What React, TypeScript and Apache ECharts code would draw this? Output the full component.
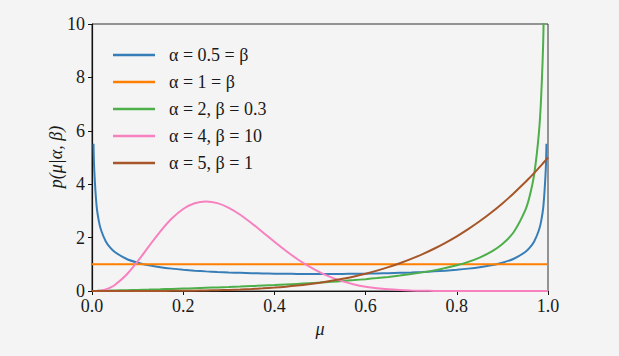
import React, { useEffect, useRef } from "react";
import * as echarts from "echarts";

const FONT = "Liberation Serif";

const mu = [
  0, 0.00334, 0.005, 0.01, 0.015, 0.02, 0.03, 0.04, 0.05, 0.075,
  0.1, 0.125, 0.15, 0.175, 0.2, 0.225, 0.25, 0.275, 0.3, 0.325,
  0.35, 0.375, 0.4, 0.425, 0.45, 0.475, 0.5, 0.525, 0.55, 0.575,
  0.6, 0.625, 0.65, 0.675, 0.7, 0.725, 0.75, 0.775, 0.8, 0.825,
  0.85, 0.875, 0.9, 0.925, 0.95, 0.96, 0.97, 0.98, 0.985, 0.99,
  0.995, 0.99666, 1,
];

const pBlue = [
  null, 5.517, 4.513, 3.199, 2.619, 2.274, 1.866, 1.624, 1.461, 1.209,
  1.061, 0.963, 0.891, 0.838, 0.796, 0.762, 0.735, 0.713, 0.695, 0.68,
  0.667, 0.658, 0.65, 0.644, 0.64, 0.637, 0.637, 0.637, 0.64, 0.644,
  0.65, 0.658, 0.667, 0.68, 0.695, 0.713, 0.735, 0.762, 0.796, 0.838,
  0.891, 0.963, 1.061, 1.209, 1.461, 1.624, 1.866, 2.274, 2.619, 3.199,
  4.513, 5.517, null,
];

const pOrange = [
  1, 1, 1, 1, 1, 1, 1, 1, 1, 1,
  1, 1, 1, 1, 1, 1, 1, 1, 1, 1,
  1, 1, 1, 1, 1, 1, 1, 1, 1, 1,
  1, 1, 1, 1, 1, 1, 1, 1, 1, 1,
  1, 1, 1, 1, 1, 1, 1, 1, 1, 1,
  1, 1, 1,
];

const pGreen = [
  0, 0.0013, 0.002, 0.0039, 0.0059, 0.0079, 0.012, 0.016, 0.0202, 0.0309,
  0.042, 0.0535, 0.0655, 0.0781, 0.0912, 0.1049, 0.1193, 0.1343, 0.1502, 0.1669,
  0.1845, 0.2032, 0.2231, 0.2442, 0.2667, 0.2908, 0.3168, 0.3448, 0.3751, 0.4082,
  0.4444, 0.4843, 0.5286, 0.5782, 0.6341, 0.698, 0.7719, 0.8587, 0.9626, 1.0899,
  1.2509, 1.4629, 1.7592, 2.2115, 3.0165, 3.5636, 4.4039, 5.91, 7.265, 9.698,
  15.83, 21.0, null,
];

const pPink = [
  0, 0.0001, 0.0003, 0.0026, 0.0084, 0.0191, 0.0587, 0.1268, 0.2253, 0.5982,
  1.108, 1.6794, 2.2357, 2.7141, 3.0709, 3.2857, 3.3554, 3.2915, 3.1161, 2.8562,
  2.5398, 2.1947, 1.8447, 1.5085, 1.2001, 0.9287, 0.6982, 0.5094, 0.36, 0.246,
  0.1619, 0.1024, 0.0619, 0.0356, 0.0193, 0.0098, 0.0046, 0.002, 0.0007, 0.0002,
  0.0001, 0, 0, 0, 0, 0, 0, 0, 0, 0,
  0, 0, 0,
];

const pBrown = [
  0, 0, 0, 0, 0, 0, 0, 0, 0, 0.0002,
  0.0005, 0.0012, 0.0025, 0.0047, 0.008, 0.0128, 0.0195, 0.0286, 0.0405, 0.0558,
  0.075, 0.0989, 0.128, 0.1631, 0.205, 0.2545, 0.3125, 0.3798, 0.4575, 0.5466,
  0.648, 0.7629, 0.8925, 1.038, 1.2005, 1.3814, 1.582, 1.8038, 2.048, 2.3163,
  2.61, 2.9309, 3.2805, 3.6605, 4.0725, 4.2467, 4.4265, 4.6118, 4.7067, 4.803,
  4.9007, 4.9335, 5,
];

const seriesLabels = [
  "α = 0.5 = β",
  "α = 1 = β",
  "α = 2, β = 0.3",
  "α = 4, β = 10",
  "α = 5, β = 1",
];
const seriesValues = [pBlue, pOrange, pGreen, pPink, pBrown];
const seriesColors = ["#377eb8", "#ff7f00", "#4daf4a", "#f781bf", "#a65628"];

const xTicks = [0, 0.2, 0.4, 0.6, 0.8, 1.0];
const yTicks = [0, 2, 4, 6, 8, 10];
const xAxisTitle = "μ";
const yAxisTitle = "p(μ|α, β)";

const TXT = "#1a1a1a";

export default function App() {
  const ref = useRef<HTMLDivElement>(null);
  useEffect(() => {
    if (!ref.current) return;
    const chart = echarts.init(ref.current, undefined, { renderer: "svg" });
    const series = seriesLabels.map((name, s) => ({
      name,
      type: "line",
      data: mu.map((x, k) => [x, seriesValues[s][k]]),
      symbol: "none",
      showSymbol: false,
      smooth: 0.3,
      clip: true,
      lineStyle: { color: seriesColors[s], width: 2 },
      itemStyle: { color: seriesColors[s] },
      emphasis: { disabled: true },
    }));
    chart.setOption({
      animation: false,
      backgroundColor: "#f4f4f4",
      grid: {
        left: 92,
        right: 71,
        top: 24,
        bottom: 65,
        show: true,
        borderColor: "#333",
        borderWidth: 1,
        backgroundColor: "transparent",
      },
      legend: {
        left: 108,
        top: 40,
        orient: "vertical",
        icon: "rect",
        itemWidth: 42,
        itemHeight: 2.5,
        itemGap: 7,
        selectedMode: false,
        textStyle: {
          fontFamily: FONT,
          fontSize: 18,
          color: TXT,
          lineHeight: 20,
          padding: [0, 0, 0, 9],
        },
        data: seriesLabels,
      },
      graphic: [
        {
          type: "text",
          x: 56,
          y: 157,
          rotation: Math.PI / 2,
          silent: true,
          style: {
            text: yAxisTitle,
            fontFamily: FONT,
            fontSize: 18,
            fontStyle: "italic",
            fill: TXT,
            align: "center",
            verticalAlign: "middle",
          },
        },
        {
          type: "text",
          x: 320,
          y: 329,
          silent: true,
          style: {
            text: xAxisTitle,
            fontFamily: FONT,
            fontSize: 18,
            fontStyle: "italic",
            fill: TXT,
            align: "center",
            verticalAlign: "middle",
          },
        },
      ],
      xAxis: {
        type: "value",
        min: 0,
        max: 1,
        interval: 0.2,
        axisLine: { show: true, lineStyle: { color: "#111", width: 1.2 } },
        axisTick: { show: true, length: 4, lineStyle: { color: "#111" } },
        axisLabel: {
          fontFamily: FONT,
          fontSize: 18,
          color: TXT,
          margin: 6,
          formatter: (v: number) =>
            xTicks.some((t) => Math.abs(t - v) < 1e-9) ? v.toFixed(1) : "",
        },
        splitLine: { show: false },
      },
      yAxis: {
        type: "value",
        min: 0,
        max: 10,
        interval: 2,
        axisLine: { show: true, lineStyle: { color: "#111", width: 1.2 } },
        axisTick: { show: true, length: 4, lineStyle: { color: "#111" } },
        axisLabel: {
          fontFamily: FONT,
          fontSize: 18,
          color: TXT,
          margin: 7,
          formatter: (v: number) => (yTicks.includes(v) ? String(v) : ""),
        },
        splitLine: { show: false },
      },
      series,
    });
    return () => chart.dispose();
  }, []);
  return (
    <div
      ref={ref}
      style={{ position: "fixed", left: 0, top: 0, width: 619, height: 356 }}
    />
  );
}
